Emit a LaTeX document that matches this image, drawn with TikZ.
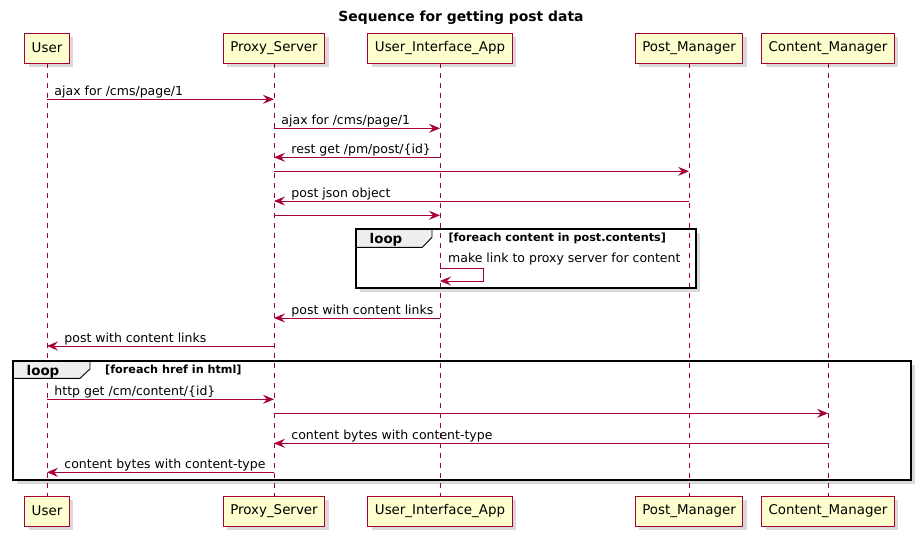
\documentclass[tikz,border=0pt]{standalone}
\usepackage{fontspec}
\setmainfont{DejaVu Sans}
\usetikzlibrary{arrows.meta, shadows}
\definecolor{cLine}{RGB}{168,0,54}
\definecolor{cBox}{RGB}{254,254,206}
\definecolor{cTab}{RGB}{238,238,238}

\begin{document}
\begin{tikzpicture}[x=1pt, y=-1pt,
        actor/.style={rectangle, draw=cLine, fill=cBox, line width=0.9pt, minimum height=30pt,
        inner xsep=7pt, font=\fontsize{13.4}{16}\selectfont,
        drop shadow={shadow xshift=4pt, shadow yshift=-4pt, opacity=0.3}},
        life/.style={draw=cLine, line width=0.8pt, dash pattern=on 5pt off 5pt},
        msg/.style={draw=cLine, line width=0.9pt, -{Stealth[length=11pt, width=9pt, inset=4pt]}},
        lbl/.style={font=\fontsize{12.5}{15}\selectfont, inner sep=0pt, anchor=base west},
        frame/.style={draw=black, line width=2pt,
        drop shadow={shadow xshift=4pt, shadow yshift=-4pt, opacity=0.3}},
        tab/.style={draw=black, fill=cTab, line width=0.9pt},
        tabtext/.style={font=\bfseries\fontsize{13.4}{15}\selectfont, inner sep=0pt, anchor=base},
        guard/.style={font=\bfseries\fontsize{11.2}{13}\selectfont, inner sep=0pt, anchor=base west}
    ]
        \useasboundingbox (0,0) rectangle (919,536);

        \node[font=\bfseries\fontsize{13.9}{16}\selectfont] (title) at (461,18) {Sequence for getting post data};

        % --- participants ---
        \node[actor] (user)    at (47,48)  {User};
        \node[actor] (proxy)   at (274,48) {Proxy\_Server};
        \node[actor] (uia)     at (440,48) {User\_Interface\_App};
        \node[actor] (post)    at (689,48) {Post\_Manager};
        \node[actor] (content) at (828,48) {Content\_Manager};

        \node[actor] (userB)    at (47,511)  {User};
        \node[actor] (proxyB)   at (274,511) {Proxy\_Server};
        \node[actor] (uiaB)     at (440,511) {User\_Interface\_App};
        \node[actor] (postB)    at (689,511) {Post\_Manager};
        \node[actor] (contentB) at (828,511) {Content\_Manager};

        % --- loop frames (behind lifelines) ---
        \draw[frame, fill=white] (355.7,229.3) rectangle (696,287.7);
        \draw[frame, fill=white] (12.7,361) rectangle (910.7,480);

        \draw[life] (user) -- (userB);
        \draw[life] (proxy) -- (proxyB);
        \draw[life] (uia) -- (uiaB);
        \draw[life] (post) -- (postB);
        \draw[life] (content) -- (contentB);

        % --- message rows ---
        \coordinate (r1) at (0,99.3);
        \coordinate (r2) at (0,128.3);
        \coordinate (r3) at (0,157.3);
        \coordinate (r4) at (0,171.3);
        \coordinate (r5) at (0,201);
        \coordinate (r6) at (0,215.3);
        \coordinate (s1) at (0,268.3);
        \coordinate (s2) at (0,281);
        \coordinate (r7) at (0,318);
        \coordinate (r8) at (0,346);
        \coordinate (r9) at (0,399.3);
        \coordinate (r10) at (0,413.3);
        \coordinate (r11) at (0,443.3);
        \coordinate (r12) at (0,472.3);

        \draw[msg] (user |- r1) -- (proxy |- r1)
            node[lbl, pos=0, xshift=7pt, yshift=4pt] (t1) {ajax for /cms/page/1};
        \draw[msg] (proxy |- r2) -- (uia |- r2)
            node[lbl, pos=0, xshift=7pt, yshift=4pt] (t2) {ajax for /cms/page/1};
        \draw[msg] (uia |- r3) -- (proxy |- r3)
            node[lbl, pos=1, xshift=17pt, yshift=4pt] (t3) {rest get /pm/post/\{id\}};
        \draw[msg] (proxy |- r4) -- (post |- r4);
        \draw[msg] (post |- r5) -- (proxy |- r5)
            node[lbl, pos=1, xshift=17pt, yshift=4pt] (t5) {post json object};
        \draw[msg] (proxy |- r6) -- (uia |- r6);

        % --- loop over contents ---
        \draw[tab] (355.7,229.3) -- (432,229.3) -- (432,237.3) -- (422.3,247.3) -- (355.7,247.3) -- cycle;
        \draw[line width=2pt] (355.7,229.3) rectangle (696,287.7);
        \node[tabtext] (loop1) at (386,243.5) {loop};
        \node[guard] (guard1) at (448.3,241.7) {[foreach content in post.contents]};
        \draw[msg] (uia |- s1) -- ++(43,0) -- ++(0,12.7) -- (uia |- s2);
        \node[lbl] (t6) at (448,262.5) {make link to proxy server for content};

        \draw[msg] (uia |- r7) -- (proxy |- r7)
            node[lbl, pos=1, xshift=17pt, yshift=4pt] (t7) {post with content links};
        \draw[msg] (proxy |- r8) -- (user |- r8)
            node[lbl, pos=1, xshift=17pt, yshift=4pt] (t8) {post with content links};

        % --- loop over hrefs ---
        \draw[tab] (12.7,361) -- (90,361) -- (90,369) -- (80,378.3) -- (12.7,378.3) -- cycle;
        \draw[line width=2pt] (12.7,361) rectangle (910.7,480);
        \node[tabtext] (loop2) at (43,375.5) {loop};
        \node[guard] (guard2) at (105,373.5) {[foreach href in html]};

        \draw[msg] (user |- r9) -- (proxy |- r9)
            node[lbl, pos=0, xshift=7pt, yshift=4pt] (t9) {http get /cm/content/\{id\}};
        \draw[msg] (proxy |- r10) -- (content |- r10);
        \draw[msg] (content |- r11) -- (proxy |- r11)
            node[lbl, pos=1, xshift=17pt, yshift=4pt] (t11) {content bytes with content-type};
        \draw[msg] (proxy |- r12) -- (user |- r12)
            node[lbl, pos=1, xshift=17pt, yshift=4pt] (t12) {content bytes with content-type};

    \end{tikzpicture}
\end{document}
